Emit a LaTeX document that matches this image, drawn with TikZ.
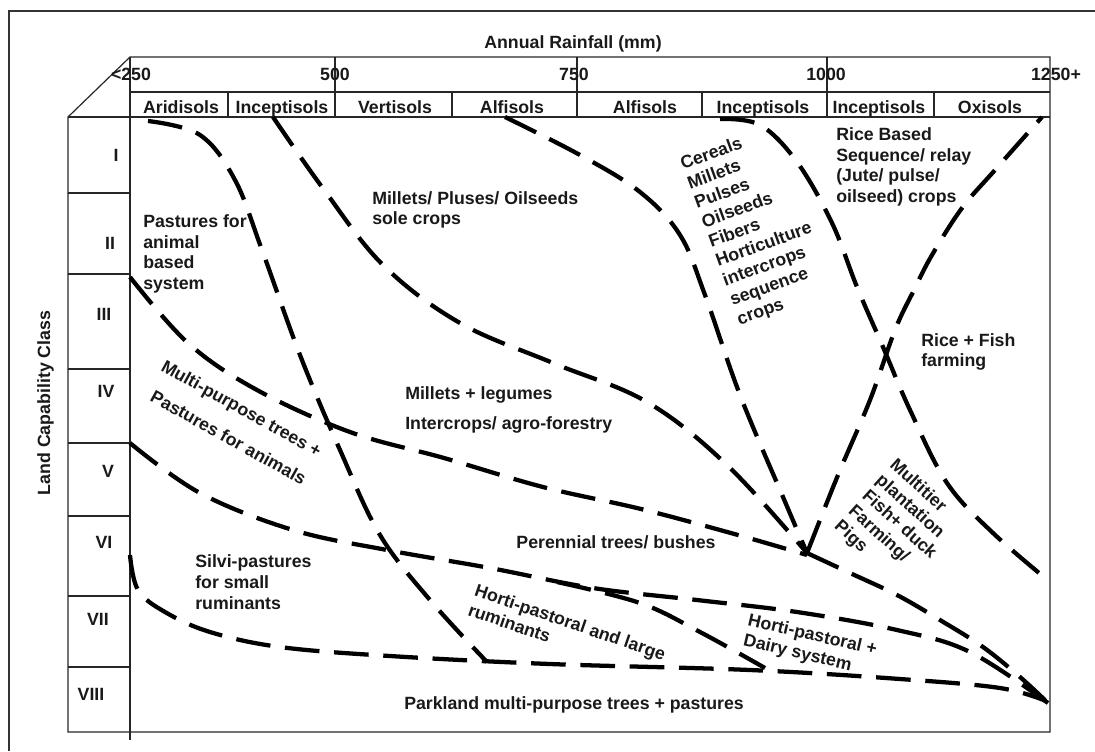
\documentclass[tikz,border=0pt]{standalone}
\usepackage{fontspec}
\setmainfont{Liberation Sans}
\usepackage{tikz}
\usetikzlibrary{positioning}

\begin{document}
\begin{tikzpicture}[
    x=0.75pt, y=-0.75pt,
    txt/.style={font=\fontsize{13.3}{15.5}\selectfont\bfseries, text=black!90, inner sep=0pt, align=left},
    frameline/.style={line width=0.9pt, black!85},
    boundary/.style={line width=3.2pt, dash pattern=on 26pt off 11pt}
]
\useasboundingbox (0,0) rectangle (1095,751);

% outer frame
\draw[line width=2pt, black!80] (9,751) -- (9,11) -- (1095,11);

% chart box, rainfall row and soil row
\draw[frameline] (68,117) -- (130,57) -- (1050,57) -- (1050,732) -- (68,732) -- cycle;
\draw[frameline] (130,57) -- (130,740);
\draw[frameline] (130,92) -- (1050,92);
\draw[frameline] (68,117) -- (1050,117);
\draw[frameline] (335,57) -- (335,117);
\draw[frameline] (577,57) -- (577,117);
\draw[frameline] (827,57) -- (827,117);
\draw[frameline] (228,92) -- (228,117);
\draw[frameline] (452,92) -- (452,117);
\draw[frameline] (702,92) -- (702,117);
\draw[frameline] (934,92) -- (934,117);

% class rows
\draw[frameline] (68,193) -- (130,193);
\draw[frameline] (68,274) -- (130,274);
\draw[frameline] (68,369) -- (130,369);
\draw[frameline] (68,443) -- (130,443);
\draw[frameline] (68,516) -- (130,516);
\draw[frameline] (68,596) -- (130,596);
\draw[frameline] (68,667) -- (130,667);

% axis titles and rainfall values
\node[txt, anchor=base] (rain) at (573,48) {Annual Rainfall (mm)};
\node[txt, anchor=base, rotate=90] (lcc) at (50,403) {Land Capability Class};
\node[txt, anchor=base] (r250) at (131,80) {<250};
\node[txt, anchor=base] (r500) at (335,80) {500};
\node[txt, anchor=base] (r750) at (574,80) {750};
\node[txt, anchor=base] (r1000) at (826,80) {1000};
\node[txt, anchor=base] (r1250) at (1056,80) {1250+};

% soil orders
\node[txt, anchor=base] (aridi) at (181,113.5) {Aridisols};
\node[txt, anchor=base] (incepA) at (282,113.5) {Inceptisols};
\node[txt, anchor=base] (verti) at (395,113.5) {Vertisols};
\node[txt, anchor=base] (alfiA) at (512,113.5) {Alfisols};
\node[txt, anchor=base] (alfiB) at (645,113.5) {Alfisols};
\node[txt, anchor=base] (incepB) at (763,113.5) {Inceptisols};
\node[txt, anchor=base] (incepC) at (879,113.5) {Inceptisols};
\node[txt, anchor=base] (oxi) at (990,113.5) {Oxisols};

% capability classes
\node[txt] (cI) at (116,155) {I};
\node[txt] (cII) at (110,243) {II};
\node[txt] (cIII) at (104,314) {III};
\node[txt] (cIV) at (106,391) {IV};
\node[txt] (cV) at (108,471) {V};
\node[txt] (cVI) at (104,542) {VI};
\node[txt] (cVII) at (98,619) {VII};
\node[txt] (cVIII) at (91,694) {VIII};

% land use zones
\node[txt, anchor=west] (pasture) at (143,254) {Pastures for\\animal\\based\\system};
\node[txt, anchor=west] (sole) at (372,210) {Millets/ Pluses/ Oilseeds\\sole crops};
\node[txt, anchor=base west] (legume) at (405,399) {Millets + legumes};
\node[txt, anchor=base west] (agro) at (405,429) {Intercrops/ agro-forestry};
\node[txt, anchor=west, rotate=-29] (mpt) at (162,366) {Multi-purpose trees +};
\node[txt, anchor=west, rotate=-29] (mptp) at (152,395) {Pastures for animals};
\node[txt, rotate=20] (cereal) at (757,226) {Cereals\\Millets\\Pulses\\Oilseeds\\Fibers\\Horticulture\\intercrops\\sequence\\crops};
\node[txt, anchor=west] (rice) at (836,167) {Rice Based\\Sequence/ relay\\(Jute/ pulse/\\oilseed) crops};
\node[txt, anchor=west] (fish) at (921,352) {Rice + Fish\\farming};
\node[txt, rotate=-42] (tier) at (899,525) {Multitier\\plantation\\Fish+ duck\\Farming/\\Pigs};
\node[txt, anchor=base] (peren) at (616,548) {Perennial trees/ bushes};
\node[txt, anchor=west] (silvi) at (195,582) {Silvi-pastures\\for small\\ruminants};
\node[txt, rotate=-19] (hlarge) at (567,632) {Horti-pastoral and large\\ruminants};
\node[txt, rotate=-13] (hdairy) at (810,646) {Horti-pastoral +\\Dairy system};
\node[txt, anchor=base] (park) at (574,709) {Parkland multi-purpose trees + pastures};

% zone boundaries
\draw[boundary] plot[smooth, tension=0.6] coordinates {(148,121) (200,135) (235,180) (262,250) (300,355) (340,450) (380,535) (430,600) (487,662)};
\draw[boundary] plot[smooth, tension=0.6] coordinates {(273,117) (322,187) (383,265) (460,323) (553,363) (647,402) (727,465) (807,553)};
\draw[boundary] plot[smooth, tension=0.6] coordinates {(505,117) (580,155) (640,192) (680,235) (705,295) (740,395) (783,497) (807,553)};
\draw[boundary] plot[smooth, tension=0.6] coordinates {(720,119) (760,125) (797,162) (832,223) (857,287) (883,347) (910,410) (947,483) (993,533) (1050,582)};
\draw[boundary] plot[smooth, tension=0.6] coordinates {(807,553) (838,475) (870,400) (895,330) (914,290) (932,255) (962,208) (995,170) (1042,117)};
\draw[boundary] plot[smooth, tension=0.6] coordinates {(130,277) (188,343) (257,390) (350,432) (444,458) (543,487) (641,509) (738,535) (807,555)};
\draw[boundary] plot[smooth, tension=0.6] coordinates {(130,443) (200,493) (293,530) (387,550) (490,568) (593,588) (697,600) (797,612) (897,630) (970,652) (1048,703)};
\draw[boundary] plot[smooth, tension=0.6] coordinates {(807,553) (850,573) (897,595) (940,620) (983,647) (1020,677) (1048,703)};
\draw[boundary] plot[smooth, tension=0.6] coordinates {(557,582) (640,603) (700,632) (765,668)};
\draw[boundary] plot[smooth, tension=0.6] coordinates {(130,555) (138,590) (165,612) (210,632) (280,647) (390,656) (550,664) (750,670) (900,679) (1000,688) (1046,701)};
\end{tikzpicture}
\end{document}
